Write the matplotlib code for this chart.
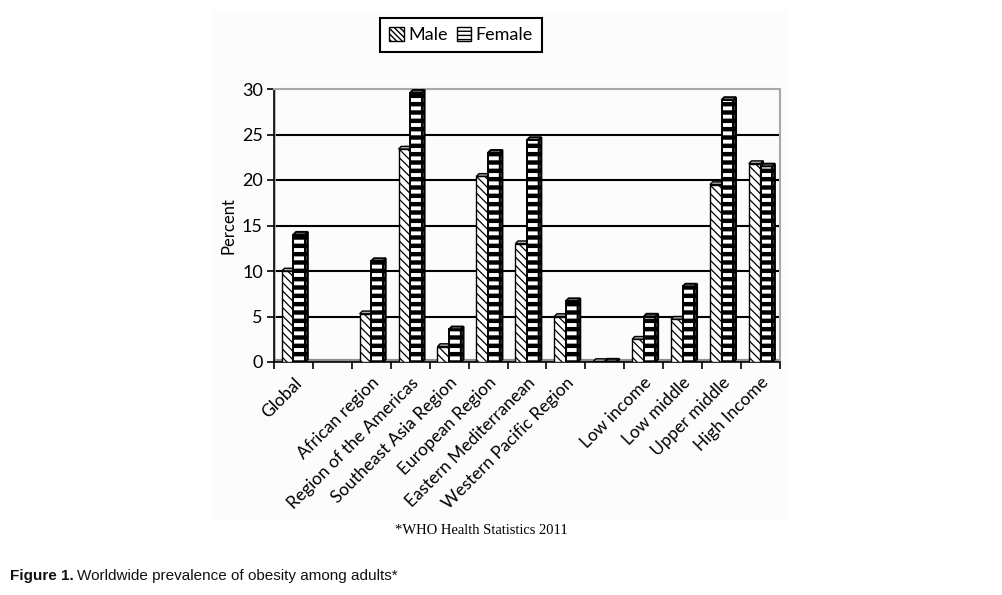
import numpy as np
import matplotlib
matplotlib.use('Agg')
import matplotlib.pyplot as plt
from matplotlib.patches import Polygon, Patch, Rectangle

# data (WHO Health Statistics 2011)
categories = ['Global', '', 'African region', 'Region of the Americas', 'Southeast Asia Region',
              'European Region', 'Eastern Mediterranean', 'Western Pacific Region', '',
              'Low income', 'Low middle', 'Upper middle', 'High Income']
male = [10.0, np.nan, 5.3, 23.4, 1.7, 20.4, 13.0, 5.0, 0.05, 2.5, 4.7, 19.5, 21.8]
female = [14.0, np.nan, 11.1, 29.6, 3.6, 23.0, 24.4, 6.7, 0.05, 5.0, 8.3, 28.8, 21.5]
yticks = [0, 5, 10, 15, 20, 25, 30]

plt.rcParams['font.family'] = ['Lato', 'DejaVu Sans']

fig = plt.figure(figsize=(10.02, 5.95), dpi=100)
# light chart area behind the plot
fig.patches.append(Rectangle((212/1002, 1-520/595), (787-212)/1002, (520-12)/595,
                             transform=fig.transFigure, facecolor='#fcfcfc', edgecolor='none', zorder=-10))

ax = fig.add_axes([274/1002, 1-362/595, (780-274)/1002, (362-89)/595])
ax.set_facecolor('none')
ax.set_zorder(2)

x = np.arange(len(categories))
w = 0.3
dx, dy = 0.07, 0.3

def bar3d(xc, vals, hatch, hlw, face, side, top, elw):
    for xi, v in zip(xc, vals):
        if np.isnan(v):
            continue
        x0, x1 = xi - w/2, xi + w/2
        parts = [
            (Rectangle((x0, 0), w, v), face, hatch),
            (Polygon([(x1, 0), (x1+dx, dy), (x1+dx, v+dy), (x1, v)]), side, hatch),
            (Polygon([(x0, v), (x0+dx, v+dy), (x1+dx, v+dy), (x1, v)]), top, None),
        ]
        for p, fc, h in parts:
            p.set_facecolor(fc)
            p.set_edgecolor('black')
            p.set_linewidth(elw)
            if h:
                p.set_hatch(h)
                if hasattr(p, 'set_hatch_linewidth'):
                    p.set_hatch_linewidth(hlw)
            p.set_zorder(3)
            ax.add_patch(p)

bar3d(x - w/2, male, '\\\\\\\\', 0.9, 'white', '#dddddd', '#aaaaaa', 1.0)
bar3d(x + w/2, female, '--', 3.2, 'white', '#555555', '#888888', 1.4)

# gridlines, back wall edge and floor
for yv in yticks[1:-1]:
    ax.axhline(yv, color='black', lw=1.5, zorder=1)
ax.axvline(-0.47, color='#b0b0b0', lw=1.2, zorder=1)
ax.axhline(0.15, color='#909090', lw=3, zorder=2)

ax.set_xlim(-0.5, len(categories) - 0.5)
ax.set_ylim(0, 30)
ax.set_yticks(yticks)
ax.set_yticklabels([str(v) for v in yticks], fontsize=13)
ax.set_xticks(x)
ax.set_xticklabels(categories, rotation=45, ha='right', rotation_mode='anchor', fontsize=12.5)
ax.set_xticks(np.arange(-0.5, len(categories)), minor=True)
ax.tick_params(axis='x', which='major', length=0, pad=9)
ax.tick_params(axis='x', which='minor', length=5, width=1.2, direction='out')
ax.tick_params(axis='y', length=5, width=1.2, direction='out', pad=3)

for s in ['top', 'right']:
    ax.spines[s].set_color('#a8a8a8')
    ax.spines[s].set_linewidth(1.5)
for s in ['left', 'bottom']:
    ax.spines[s].set_color('black')
    ax.spines[s].set_linewidth(1.2)

ax.set_ylabel('Percent', fontsize=12, labelpad=4)

handles = [Patch(facecolor='white', edgecolor='black', hatch='\\\\\\\\\\\\', label='Male'),
           Patch(facecolor='white', edgecolor='black', hatch='----', label='Female')]
leg = fig.legend(handles=handles, loc='center', bbox_to_anchor=(461/1002, 1-35/595), ncol=2,
                 fancybox=False, edgecolor='black', framealpha=1, fontsize=13,
                 handlelength=0.8, handleheight=0.8, handletextpad=0.25, columnspacing=0.5,
                 borderpad=0.5)
leg.get_frame().set_linewidth(1.5)

fig.text(481/1002, 1-530/595, '*WHO Health Statistics 2011', ha='center', va='center',
         fontsize=10.5, family='Liberation Serif')

fig.canvas.draw()
t1 = fig.text(10/1002, 1-576/595, 'Figure 1.', ha='left', va='center', fontsize=11,
              weight='bold', family='Liberation Sans', color='#111111')
bb = t1.get_window_extent(fig.canvas.get_renderer())
fig.text((bb.x1 + 3)/1002, 1-576/595, 'Worldwide prevalence of obesity among adults*',
         ha='left', va='center', fontsize=11, family='Liberation Sans', color='#111111')

fig.savefig('out.png', dpi=100, facecolor='white')
